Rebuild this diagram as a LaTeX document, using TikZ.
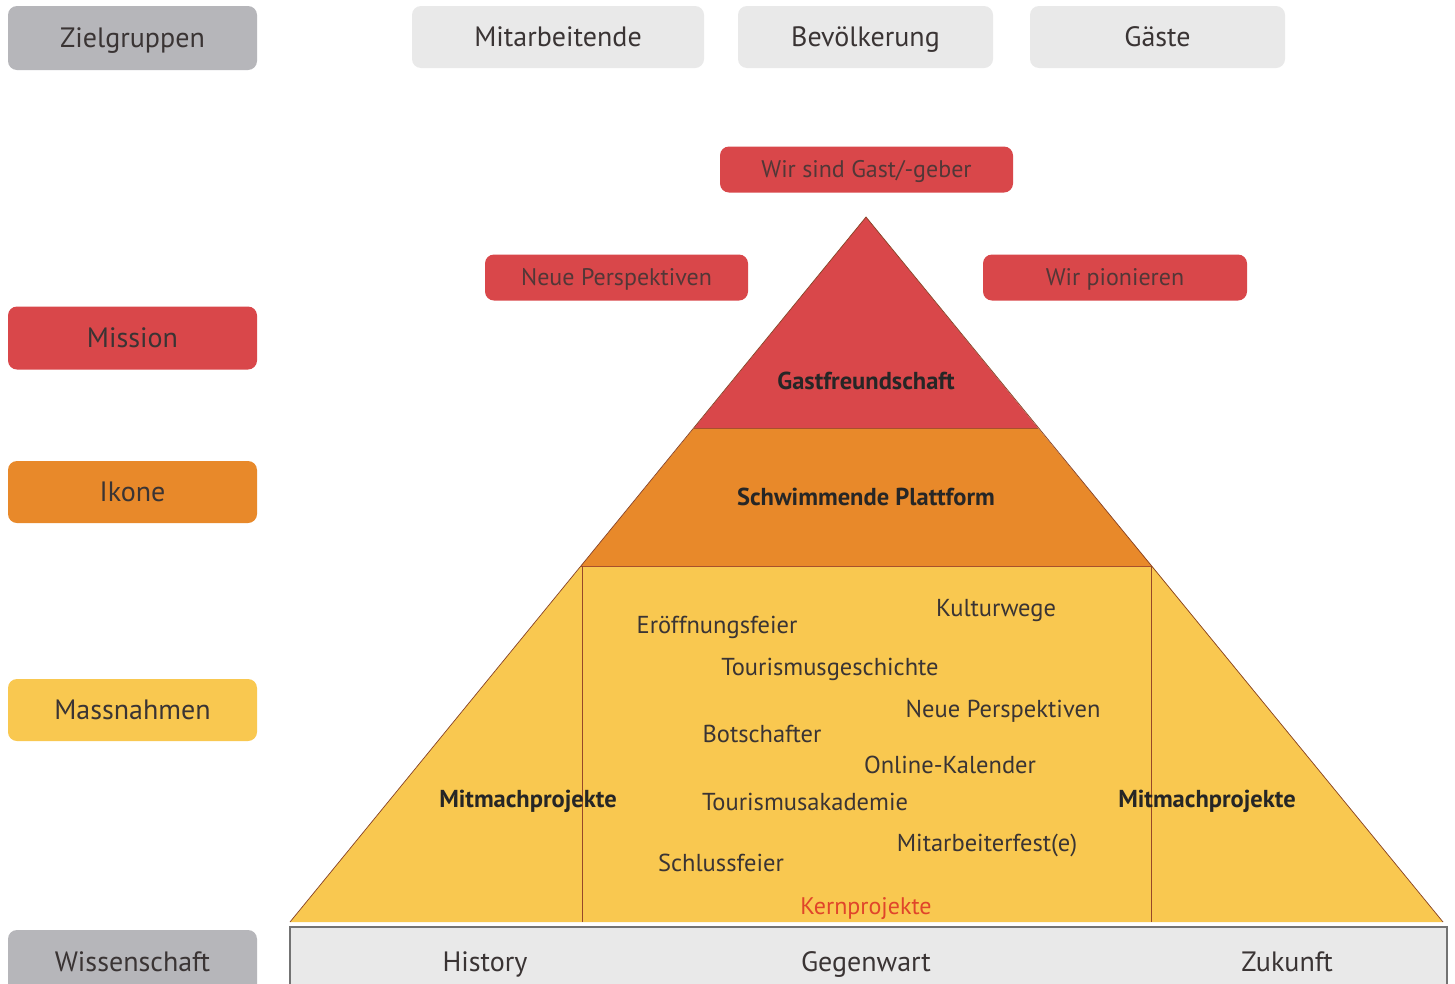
\documentclass[tikz,border=0pt]{standalone}
\usepackage{fontspec}
\setmainfont{PT Sans}
\definecolor{cred}{HTML}{D9474A}
\definecolor{cora}{HTML}{E8892A}
\definecolor{cyel}{HTML}{F9C850}
\definecolor{cgray}{HTML}{B6B6BA}
\definecolor{clight}{HTML}{E9E9E9}
\definecolor{ctxt}{HTML}{3A3434}
\definecolor{cline}{HTML}{A8502C}
\definecolor{ckern}{HTML}{E0452A}
\begin{document}
\begin{tikzpicture}[x=1pt,y=-1pt,
  lbl/.style={rounded corners=9pt, inner sep=0pt, text height=22pt, text depth=4pt, font=\fontsize{28}{32}\selectfont, text=ctxt},
  rbox/.style={lbl, fill=cred, text height=20pt, text depth=4pt, font=\fontsize{24}{28}\selectfont, text=ctxt!85!cred},
  item/.style={font=\fontsize{24.5}{28}\selectfont, text=ctxt, inner sep=0pt},
  bitem/.style={font=\bfseries\fontsize{24.5}{28}\selectfont, text=black!85, inner sep=0pt}]
\useasboundingbox (0,0) rectangle (1455,983);
\fill[white] (0,0) rectangle (1455,983);

% left legend boxes
\node[lbl, fill=cgray, minimum width=249pt, minimum height=64pt] (zg) at (132.5,38) {Zielgruppen};
\node[lbl, fill=cred, minimum width=249pt, minimum height=63pt] (mis) at (132.5,338) {Mission};
\node[lbl, fill=cora, minimum width=249pt, minimum height=62pt] (iko) at (132.5,492) {Ikone};
\node[lbl, fill=cyel, minimum width=249pt, minimum height=62pt] (mas) at (132.5,710) {Massnahmen};
\node[lbl, fill=cgray, minimum width=249pt, minimum height=64pt] (wis) at (132.5,962) {Wissenschaft};

% target groups
\node[lbl, fill=clight, minimum width=292pt, minimum height=62pt] (mit) at (558,37) {Mitarbeitende};
\node[lbl, fill=clight, minimum width=255pt, minimum height=62pt] (bev) at (865.5,37) {Bevölkerung};
\node[lbl, fill=clight, minimum width=255pt, minimum height=62pt] (gae) at (1157.5,37) {Gäste};

% mission boxes
\node[rbox, minimum width=293pt, minimum height=46pt] (wsg) at (866.5,169.5) {Wir sind Gast/-geber};
\node[rbox, minimum width=263pt, minimum height=46pt] (nps) at (616.5,277.5) {Neue Perspektiven};
\node[rbox, minimum width=264pt, minimum height=46pt] (wpi) at (1115,277.5) {Wir pionieren};

% pyramid
\coordinate (apex) at (866,217);
\coordinate (bl) at (290,922);
\coordinate (br) at (1443,922);
\fill[cyel] (581,566) -- (1152,566) -- (br) -- (bl) -- cycle;
\fill[cora] (694,428) -- (1038,428) -- (1152,566) -- (581,566) -- cycle;
\fill[cred] (apex) -- (1038,428) -- (694,428) -- cycle;
\draw[cline, line width=0.8pt] (694,428) -- (1038,428);
\draw[cline, line width=0.8pt] (581,566) -- (1152,566);
\draw[cline!80!black, line width=0.7pt] (bl) -- (apex) -- (br);
\draw[cline!90!black, line width=0.8pt] (582,566) -- (582,922);
\draw[cline!90!black, line width=0.8pt] (1151,566) -- (1151,922);

\node[bitem] (gf) at (866,381) {Gastfreundschaft};
\node[bitem] (sp) at (866,497) {Schwimmende Plattform};
\node[bitem] (mml) at (528,801) {Mitmachprojekte};
\node[bitem] (mmr) at (1207,801) {Mitmachprojekte};

\node[item] (i1) at (717,627) {Eröffnungsfeier};
\node[item] (i2) at (996,611) {Kulturwege};
\node[item] (i3) at (830,669) {Tourismusgeschichte};
\node[item] (i4) at (1003,711) {Neue Perspektiven};
\node[item] (i5) at (762,734) {Botschafter};
\node[item] (i6) at (950,765) {Online-Kalender};
\node[item] (i7) at (805,802) {Tourismusakademie};
\node[item] (i8) at (987,845) {Mitarbeiterfest(e)};
\node[item] (i9) at (721,863) {Schlussfeier};
\node[item, text=ckern, font=\fontsize{24}{28}\selectfont] (kp) at (866,909) {Kernprojekte};

% bottom bar
\fill[clight] (290,927) rectangle (1447,990);
\draw[black!55, line width=1.5pt] (290,990) -- (290,927) -- (1447,927) -- (1447,990);
\node[lbl, fill=none] (his) at (485,962) {History};
\node[lbl, fill=none] (geg) at (866,962) {Gegenwart};
\node[lbl, fill=none] (zuk) at (1287,962) {Zukunft};
\end{tikzpicture}
\end{document}
